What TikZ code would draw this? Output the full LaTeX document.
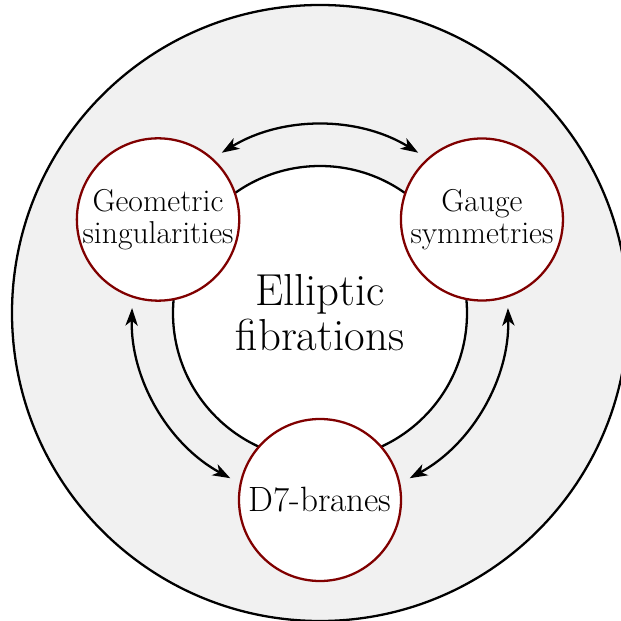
\documentclass[tikz,border=0pt]{standalone}
\usetikzlibrary{arrows.meta}
\definecolor{darkred}{RGB}{128,0,0}
\definecolor{shade}{RGB}{241,241,241}
\begin{document}
\begin{tikzpicture}[line width=1.3pt,
        blob/.style={circle, draw=darkred, fill=white, minimum size=3.24cm, inner sep=0pt, align=center, font=\fontsize{18}{18.2}\selectfont},
        link/.style={{Stealth[length=10pt,width=7pt,inset=2.8pt]}-{Stealth[length=10pt,width=7pt,inset=2.8pt]}}]
    \useasboundingbox (-6.4,-6.16) rectangle (6.0,6.26);
    \node[circle, draw, fill=shade, minimum size=12.32cm] (outer) at (0,0) {};
    \node[circle, draw, fill=white, minimum size=5.88cm, align=center, font=\fontsize{25.5}{25.5}\selectfont] (ell) at (0,0) {Elliptic\\fibrations};
    \node[blob] (geo) at (150:3.74) {Geometric\\singularities};
    \node[blob] (gauge) at (30:3.74) {Gauge\\symmetries};
    \node[blob, font=\fontsize{20}{20}\selectfont] (d7) at (270:3.74) {D7-branes};
    % arrows along a circle between the blobs
    \coordinate (top) at (121.5:3.76);
    \coordinate (left) at (178.5:3.76);
    \coordinate (right) at (298.5:3.76);
    \draw[link] (top) arc[start angle=121.5, end angle=58.5, radius=3.76];
    \draw[link] (left) arc[start angle=178.5, end angle=241.5, radius=3.76];
    \draw[link] (right) arc[start angle=298.5, end angle=361.5, radius=3.76];
\end{tikzpicture}
\end{document}
